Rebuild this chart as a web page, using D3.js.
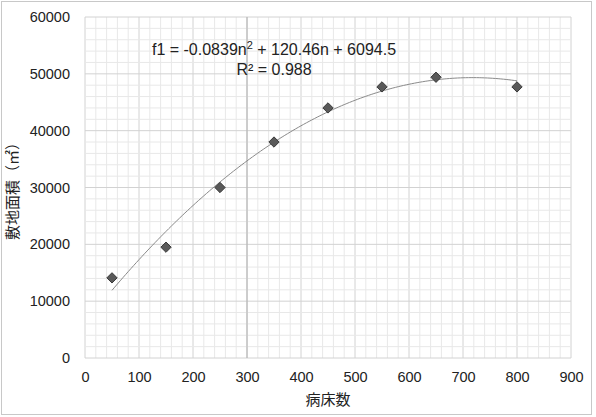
<!DOCTYPE html>
<meta charset="utf-8">
<style>
body { margin: 0; background: #fff; }
text { font-family: "Liberation Sans", Arial, sans-serif; fill: #222; }
</style>
<svg width="596" height="417"></svg>
<script src="https://d3js.org/d3.v7.min.js"></script>
<script>
var svg = d3.select("svg");

// beds vs site area
var beds = [50, 150, 250, 350, 450, 550, 650, 800];
var area = [14100, 19500, 30000, 38000, 44000, 47700, 49400, 47700];
// fitted quadratic shown on the chart: a*n^2 + b*n + c
var coef = [-0.0839, 120.46, 6094.5];
var xTicks = [0, 100, 200, 300, 400, 500, 600, 700, 800, 900];
var yTicks = [0, 10000, 20000, 30000, 40000, 50000, 60000];

var pLeft = 85, pRight = 571, pTop = 17, pBottom = 358;

var x = d3.scaleLinear().domain([0, 900]).range([pLeft, pRight]);
var y = d3.scaleLinear().domain([0, 60000]).range([pBottom, pTop]);

// outer frame
svg.append("rect")
    .attr("x", 1.5).attr("y", 1.5)
    .attr("width", 590).attr("height", 413)
    .attr("fill", "none").attr("stroke", "#c8c8c8");

// minor grid
var grid = svg.append("g");
grid.selectAll(".vx").data(d3.range(0, 901, 20))
    .enter().append("line")
    .attr("x1", function(d) { return x(d); }).attr("x2", function(d) { return x(d); })
    .attr("y1", pTop).attr("y2", pBottom)
    .attr("stroke", function(d) { return d % 100 === 0 ? "#d2d2d2" : "#e8e8e8"; });
grid.selectAll(".hy").data(d3.range(0, 60001, 2000))
    .enter().append("line")
    .attr("y1", function(d) { return y(d); }).attr("y2", function(d) { return y(d); })
    .attr("x1", pLeft).attr("x2", pRight)
    .attr("stroke", function(d) { return d % 10000 === 0 ? "#d2d2d2" : "#e8e8e8"; });
// darker line at 300
grid.append("line")
    .attr("x1", x(300)).attr("x2", x(300))
    .attr("y1", pTop).attr("y2", pBottom)
    .attr("stroke", "#b0b0b0");

// axes labels via d3 axes (no domain lines)
var xAxis = svg.append("g")
    .attr("transform", "translate(0," + pBottom + ")")
    .call(d3.axisBottom(x).tickValues(xTicks).tickSize(0).tickPadding(14).tickFormat(d3.format("d")));
var yAxis = svg.append("g")
    .attr("transform", "translate(" + pLeft + ",0)")
    .call(d3.axisLeft(y).tickValues(yTicks).tickSize(0).tickPadding(15).tickFormat(d3.format("d")));
[xAxis, yAxis].forEach(function(a) {
    a.select(".domain").remove();
    a.selectAll("text")
        .style("font-size", "14.5px")
        .style("font-family", "'Liberation Sans', Arial, sans-serif")
        .attr("fill", "#222");
});

// trend line
var curve = d3.range(beds[0], beds[beds.length - 1] + 1, 5).map(function(n) {
    return [n, coef[0] * n * n + coef[1] * n + coef[2]];
});
svg.append("path")
    .datum(curve)
    .attr("fill", "none")
    .attr("stroke", "#8a8a8a")
    .attr("stroke-width", 1)
    .attr("d", d3.line()
        .x(function(d) { return x(d[0]); })
        .y(function(d) { return y(d[1]); }));

// diamond markers
svg.selectAll(".pt").data(beds)
    .enter().append("path")
    .attr("d", d3.symbol().type(d3.symbolDiamond2).size(68))
    .attr("transform", function(d, i) { return "translate(" + x(d) + "," + y(area[i]) + ")"; })
    .attr("fill", "#595959")
    .attr("stroke", "#3a3a3a")
    .attr("stroke-width", 1);

// equation
var eq = svg.append("text")
    .attr("x", 274).attr("y", 55)
    .attr("text-anchor", "middle")
    .style("font-size", "16px");
eq.append("tspan").text("f1 = -0.0839n");
eq.append("tspan").attr("dy", -6).style("font-size", "11px").text("2");
eq.append("tspan").attr("dy", 6).text(" + 120.46n + 6094.5");
svg.append("text")
    .attr("x", 274).attr("y", 75)
    .attr("text-anchor", "middle")
    .style("font-size", "16px")
    .text("R² = 0.988");

// axis titles
svg.append("text")
    .attr("x", (pLeft + pRight) / 2).attr("y", 405)
    .attr("text-anchor", "middle")
    .style("font-family", "'Noto Sans CJK JP', sans-serif")
    .style("font-size", "15px")
    .text("病床数");
svg.append("text")
    .attr("transform", "translate(18," + (pTop + pBottom) / 2 + ") rotate(-90)")
    .attr("text-anchor", "middle")
    .style("font-family", "'Noto Sans CJK JP', sans-serif")
    .style("font-size", "15px")
    .text("敷地面積（㎡）");
</script>
